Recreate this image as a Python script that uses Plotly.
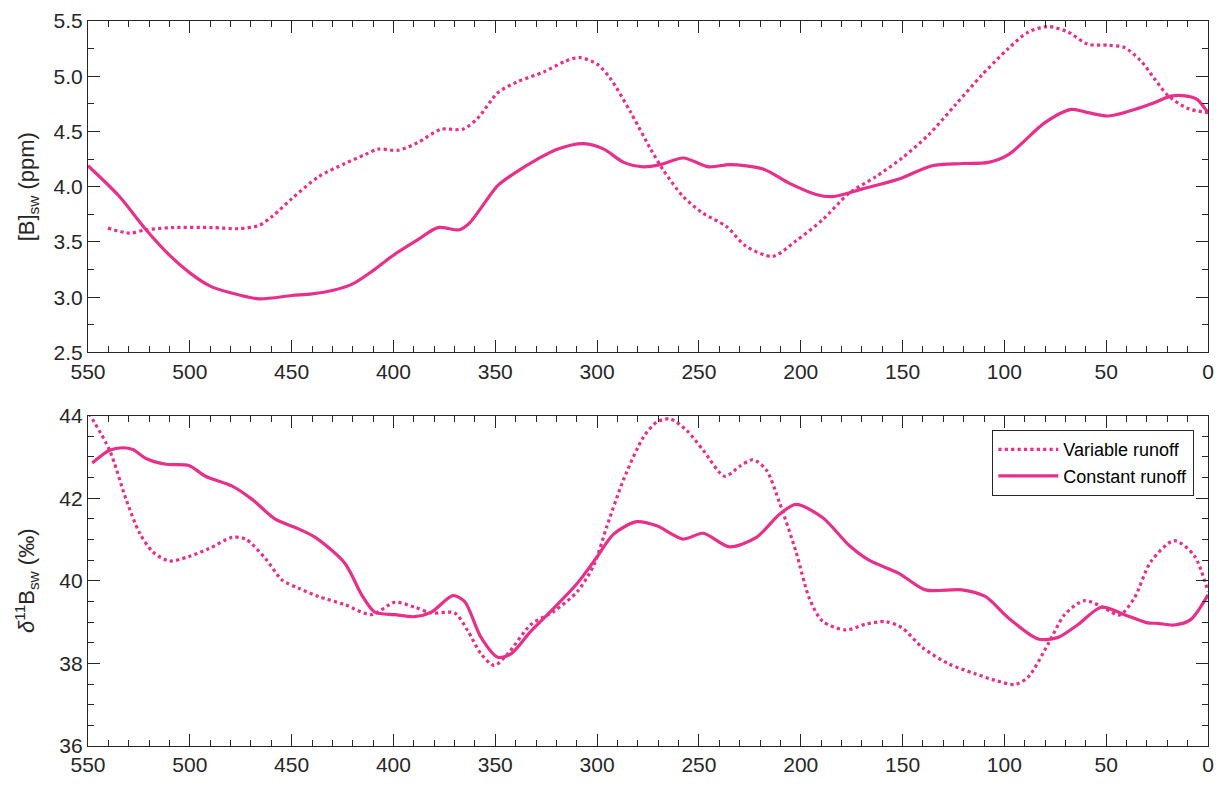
import plotly.graph_objects as go

# ---- Seawater boron concentration, [B]sw (ppm) ----
age_b_var = [540.2, 529.6, 521.5, 508.5, 488.9, 475.9, 466.0, 459.6, 450.0, 436.8, 423.8,
             414.0, 407.5, 397.7, 388.0, 376.5, 366.0, 358.6, 348.8, 339.1, 326.0, 316.3,
             309.0, 300.0, 293.5, 283.7, 274.0, 267.5, 257.7, 248.0, 236.5, 226.8, 213.7,
             202.3, 189.3, 176.3, 163.2, 150.2, 137.2, 124.1, 111.1, 98.1, 88.3, 78.5,
             68.7, 59.0, 49.2, 41.1, 33.0, 26.4, 19.9, 10.1, 0.0]
b_var = [3.625, 3.58, 3.61, 3.63, 3.63, 3.62, 3.65, 3.73, 3.89, 4.09, 4.21,
         4.29, 4.34, 4.33, 4.40, 4.52, 4.52, 4.62, 4.85, 4.95, 5.04, 5.13,
         5.17, 5.11, 4.98, 4.68, 4.35, 4.15, 3.91, 3.76, 3.64, 3.46, 3.37,
         3.51, 3.70, 3.94, 4.09, 4.26, 4.47, 4.74, 5.01, 5.25, 5.40, 5.45,
         5.40, 5.29, 5.28, 5.26, 5.14, 4.98, 4.83, 4.71, 4.67]

age_b_const = [550.0, 535.0, 521.5, 510.0, 500.0, 490.0, 480.0, 466.0, 450.0, 440.0, 430.0,
               420.0, 410.0, 400.0, 388.0, 378.2, 367.6, 362.7, 348.8, 340.7, 329.3, 319.5,
               306.5, 296.7, 286.9, 277.2, 269.0, 257.6, 245.4, 234.8, 218.5, 205.5, 192.5,
               184.4, 169.7, 151.8, 135.5, 120.8, 107.8, 98.0, 80.1, 67.1, 59.0, 49.2,
               39.4, 26.4, 18.2, 10.3, 5.4, 0.0]
b_const = [4.19, 3.92, 3.61, 3.38, 3.22, 3.10, 3.04, 2.985, 3.015, 3.03, 3.06,
           3.12, 3.24, 3.38, 3.52, 3.63, 3.61, 3.67, 4.01, 4.12, 4.25, 4.34,
           4.39, 4.34, 4.22, 4.18, 4.20, 4.26, 4.18, 4.20, 4.16, 4.03, 3.93,
           3.91, 3.98, 4.07, 4.19, 4.21, 4.22, 4.29, 4.58, 4.70, 4.67, 4.64,
           4.68, 4.76, 4.82, 4.82, 4.79, 4.67]

# ---- Seawater boron isotopes, d11B (permil) ----
age_d_var = [549.5, 539.4, 531.3, 524.8, 518.2, 510.1, 500.3, 490.6, 479.2, 472.6, 462.9,
             454.7, 446.6, 436.8, 423.8, 410.8, 399.3, 389.6, 381.4, 370.0, 363.5, 357.0,
             350.5, 343.9, 332.5, 321.2, 309.7, 301.6, 295.1, 287.0, 277.2, 270.7, 264.2,
             256.0, 247.9, 237.3, 230.0, 223.5, 217.0, 210.4, 202.3, 195.8, 189.3, 177.9,
             168.1, 158.4, 150.2, 140.4, 127.4, 114.4, 104.6, 94.8, 88.3, 78.5, 70.4,
             60.6, 50.9, 43.5, 36.2, 28.1, 16.6, 6.8, 0.0]
d_var = [44.05, 43.16, 41.97, 41.17, 40.70, 40.48, 40.59, 40.78, 41.05, 41.01, 40.54,
         40.02, 39.82, 39.62, 39.42, 39.18, 39.48, 39.36, 39.22, 39.22, 38.79, 38.23,
         37.95, 38.23, 38.94, 39.26, 39.74, 40.38, 41.33, 42.45, 43.48, 43.84, 43.92,
         43.64, 43.16, 42.53, 42.77, 42.93, 42.69, 41.89, 40.70, 39.58, 39.02, 38.81,
         38.95, 39.01, 38.86, 38.39, 37.99, 37.75, 37.59, 37.49, 37.67, 38.47, 39.18,
         39.52, 39.34, 39.17, 39.58, 40.46, 40.97, 40.61, 39.74]

age_d_const = [547.9, 539.4, 532.9, 528.0, 521.5, 511.7, 500.5, 492.3, 479.2, 469.4, 458.0,
               448.2, 438.4, 423.8, 415.6, 409.1, 399.3, 389.6, 381.4, 370.8, 365.1, 357.0,
               348.8, 342.3, 332.5, 321.2, 309.7, 300.0, 291.9, 280.5, 270.7, 257.7, 247.9,
               234.9, 221.8, 210.4, 202.3, 189.3, 176.3, 166.5, 151.8, 138.8, 120.8, 109.4,
               98.0, 83.4, 73.6, 63.8, 52.4, 41.0, 29.6, 24.8, 16.6, 8.5, 0.0]
d_const = [42.85, 43.16, 43.22, 43.18, 42.96, 42.82, 42.79, 42.53, 42.29, 41.97, 41.49,
           41.29, 41.05, 40.42, 39.66, 39.24, 39.18, 39.13, 39.24, 39.64, 39.50, 38.63,
           38.15, 38.23, 38.78, 39.34, 39.94, 40.58, 41.13, 41.43, 41.33, 41.01, 41.15,
           40.82, 41.05, 41.61, 41.85, 41.53, 40.86, 40.50, 40.18, 39.78, 39.78, 39.62,
           39.10, 38.59, 38.63, 38.94, 39.36, 39.18, 38.98, 38.97, 38.93, 39.06, 39.66]

PINK = "#E8308A"
AX = "#262626"
FONT = "Arial, Liberation Sans, Helvetica, sans-serif"

fig = go.Figure()

fig.add_trace(go.Scatter(x=age_b_var, y=b_var, mode="lines", showlegend=False,
                         line=dict(color=PINK, width=3.2, dash="dot", shape="spline", smoothing=0.8),
                         xaxis="x", yaxis="y"))
fig.add_trace(go.Scatter(x=age_b_const, y=b_const, mode="lines", showlegend=False,
                         line=dict(color=PINK, width=3.2, shape="spline", smoothing=0.8),
                         xaxis="x", yaxis="y"))
fig.add_trace(go.Scatter(x=age_d_var, y=d_var, mode="lines", name="Variable runoff",
                         line=dict(color=PINK, width=3.2, dash="dot", shape="spline", smoothing=0.8),
                         xaxis="x2", yaxis="y2"))
fig.add_trace(go.Scatter(x=age_d_const, y=d_const, mode="lines", name="Constant runoff",
                         line=dict(color=PINK, width=3.2, shape="spline", smoothing=0.8),
                         xaxis="x2", yaxis="y2"))

common = dict(showline=True, linecolor=AX, linewidth=1.2, mirror="ticks",
              ticks="inside", ticklen=12, tickwidth=1.2, tickcolor=AX,
              showgrid=False, zeroline=False,
              tickfont=dict(family=FONT, size=21, color=AX))

xcommon = dict(common, range=[550, 0], dtick=50, tick0=0,
               minor=dict(dtick=10, ticks="inside", ticklen=6, tickcolor=AX, tickwidth=1.2, showgrid=False))

fig.update_layout(
    width=1223, height=785,
    paper_bgcolor="white", plot_bgcolor="white",
    margin=dict(l=88, r=9, t=18, b=32),
    font=dict(family=FONT, color=AX),
    xaxis=dict(xcommon, domain=[0, 1], anchor="y"),
    yaxis=dict(common, domain=[0.5429, 1.0], anchor="x", range=[2.5, 5.5], dtick=0.5,
               tickformat=".1f",
               minor=dict(dtick=0.25, ticks="inside", ticklen=6, tickcolor=AX, tickwidth=1.2, showgrid=False),
               title=dict(text="[B]<sub>sw</sub> (ppm)", font=dict(family=FONT, size=22, color=AX), standoff=12)),
    xaxis2=dict(xcommon, domain=[0, 1], anchor="y2"),
    yaxis2=dict(common, domain=[0.0, 0.4558], anchor="x2", range=[36, 44], dtick=2,
                minor=dict(dtick=0.5, ticks="inside", ticklen=6, tickcolor=AX, tickwidth=1.2, showgrid=False),
                title=dict(text="<i>δ</i><sup>11</sup>B<sub>sw</sub> (‰)", font=dict(family=FONT, size=22, color=AX), standoff=18)),
    legend=dict(x=0.9876, y=0.4358, xanchor="right", yanchor="top",
                bgcolor="white", bordercolor=AX, borderwidth=1.2,
                font=dict(family=FONT, size=18, color="black"),
                itemwidth=60, tracegroupgap=0),
)

fig.write_html("out.html")
